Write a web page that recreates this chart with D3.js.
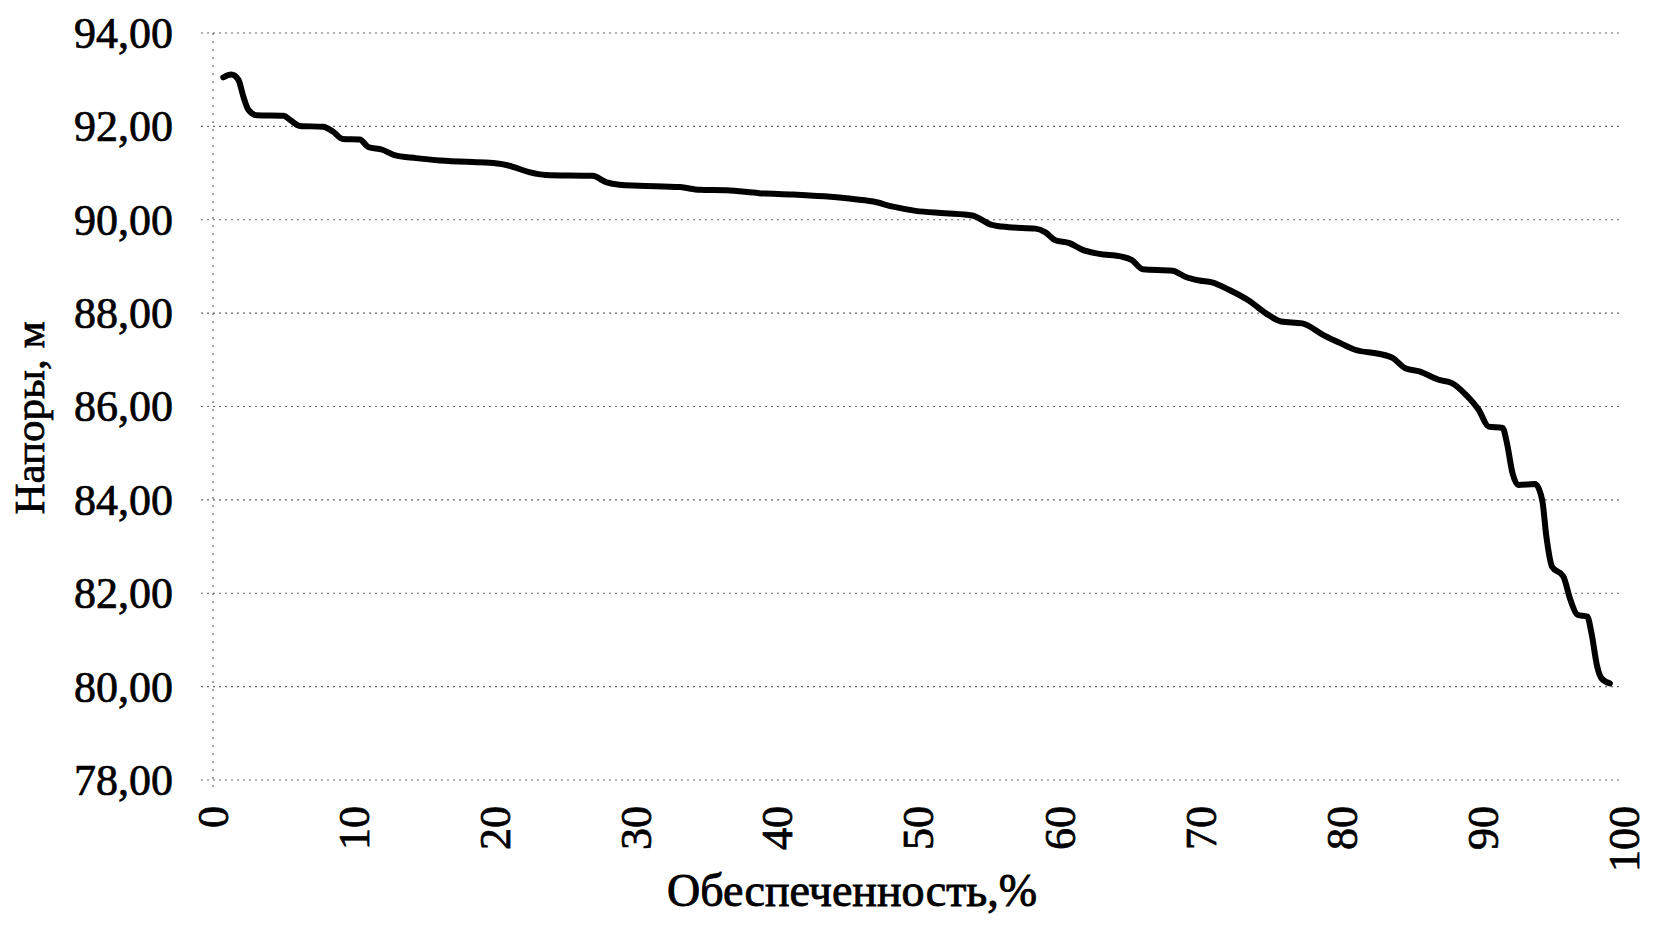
<!DOCTYPE html>
<html><head><meta charset="utf-8">
<script src="https://cdn.jsdelivr.net/npm/d3@7"></script>
<style>
html,body{margin:0;padding:0;background:#fff;}
text{font-family:"Liberation Serif","Times New Roman",serif;fill:#000;}
</style></head>
<body>
<svg id="chart" width="1654" height="929"></svg>
<script>
// Обеспеченность, %
const supply = [0.73,1.3,1.8,2.15,2.5,3.1,5.0,5.45,6.15,7.8,8.5,9.2,10.4,11.0,12.0,12.8,14.4,16.1,20.3,21.2,22.4,23.6,26.9,27.9,28.8,30.2,33.1,34.5,36.4,38.7,41.1,44.9,46.8,48.2,49.8,51.9,53.8,55.2,56.4,58.3,59.0,59.7,60.7,61.6,62.8,64.4,65.1,65.9,68.0,68.9,69.9,70.8,72.0,73.4,74.6,75.7,77.2,78.7,79.8,81.0,82.6,83.6,84.5,85.5,86.9,87.8,88.8,89.7,90.4,91.4,91.7,92.1,92.5,93.7,94.2,94.5,94.9,95.7,96.2,96.7,97.4,97.7,98.1,98.4,99.0];
// Напоры, м
const heads = [93.05,93.11,93.0,92.64,92.36,92.24,92.23,92.14,92.01,91.99,91.89,91.73,91.72,91.56,91.50,91.39,91.32,91.27,91.20,91.14,91.02,90.96,90.94,90.80,90.75,90.73,90.70,90.64,90.63,90.57,90.54,90.46,90.39,90.28,90.19,90.14,90.09,89.89,89.84,89.81,89.73,89.56,89.50,89.36,89.27,89.21,89.14,88.94,88.91,88.78,88.70,88.66,88.50,88.27,88.00,87.82,87.78,87.53,87.37,87.21,87.13,87.04,86.82,86.75,86.57,86.50,86.25,85.93,85.57,85.54,85.22,84.57,84.32,84.34,84.00,83.21,82.57,82.36,81.86,81.54,81.50,81.14,80.43,80.18,80.07];
const xTicks = [0,10,20,30,40,50,60,70,80,90,100];
const yTicks = [78,80,82,84,86,88,90,92,94];
const yTickLabels = ["78,00","80,00","82,00","84,00","86,00","88,00","90,00","92,00","94,00"];
const xTitle = "Обеспеченность,%";
const yTitle = "Напоры, м";

const svg = d3.select("#chart");
const x = d3.scaleLinear().domain([0,100]).range([213,1624]);
const y = d3.scaleLinear().domain([78,94]).range([780,33]);

// horizontal gridlines
svg.append("g").selectAll("line").data(yTicks).join("line")
  .attr("x1", x(0)-12).attr("x2", x(100)-2)
  .attr("y1", d=>y(d)).attr("y2", d=>y(d))
  .attr("stroke","#666").attr("stroke-width",1.2)
  .attr("stroke-dasharray","2,4");
// vertical axis line
svg.append("line")
  .attr("x1", x(0)).attr("x2", x(0))
  .attr("y1", y(94)).attr("y2", y(78)+10)
  .attr("stroke","#666").attr("stroke-width",1.2)
  .attr("stroke-dasharray","2,6");

// y tick labels
svg.append("g").selectAll("text").data(yTicks).join("text")
  .attr("x", 173).attr("y", d=>y(d)).attr("dy","0.34em")
  .attr("text-anchor","end")
  .attr("font-size", 44)
  .attr("stroke","#000").attr("stroke-width",0.7)
  .text((d,i)=>yTickLabels[i]);

// x tick labels rotated
svg.append("g").selectAll("text").data(xTicks).join("text")
  .attr("transform", d=>`translate(${x(d)},806) rotate(-90)`)
  .attr("dy","0.34em")
  .attr("text-anchor","end")
  .attr("font-size", 44)
  .attr("stroke","#000").attr("stroke-width",0.7)
  .text(d=>d);

// axis titles
svg.append("text")
  .attr("x", 852).attr("y", 906)
  .attr("text-anchor","middle")
  .attr("font-size", 46)
  .attr("stroke","#000").attr("stroke-width",0.9)
  .text(xTitle);
svg.append("text")
  .attr("transform","translate(44,418) rotate(-90)")
  .attr("text-anchor","middle")
  .attr("font-size", 43)
  .attr("stroke","#000").attr("stroke-width",0.7)
  .text(yTitle);

// curve
const pts = supply.map((s,i)=>[s,heads[i]]);
svg.append("path").datum(pts)
  .attr("fill","none").attr("stroke","#000")
  .attr("stroke-width",6).attr("stroke-linejoin","round").attr("stroke-linecap","round")
  .attr("d", d3.line().x(d=>x(d[0])).y(d=>y(d[1])).curve(d3.curveMonotoneX));
</script>
</body></html>
